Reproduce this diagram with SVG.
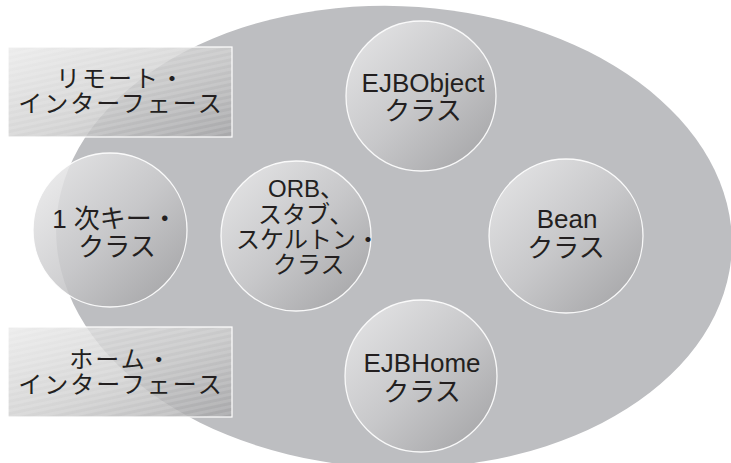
<svg xmlns="http://www.w3.org/2000/svg" width="731" height="463" viewBox="0 0 731 463">
  <defs>
    <linearGradient id="ballShade" x1="0.12" y1="0.1" x2="0.9" y2="0.92">
      <stop offset="0" stop-color="#e6e6e7"/>
      <stop offset="0.5" stop-color="#c9c9cb"/>
      <stop offset="1" stop-color="#a4a4a6"/>
    </linearGradient>
    <linearGradient id="panelShade" x1="0" y1="0" x2="1" y2="1">
      <stop offset="0" stop-color="#e8e8e8"/>
      <stop offset="0.55" stop-color="#cacaca"/>
      <stop offset="1" stop-color="#a2a2a4"/>
    </linearGradient>
    <pattern id="stripes" width="6" height="6" patternUnits="userSpaceOnUse" patternTransform="rotate(-12)">
      <rect width="6" height="3" fill="#ffffff" fill-opacity="0.12"/>
    </pattern>
  </defs>
  <style>
    .lbl { font-family: "Liberation Sans", "Noto Sans CJK JP", sans-serif; font-size: 26px; fill: #231f20; text-anchor: middle; }
    .pl { font-size: 24px; letter-spacing: 2px; }
    .sm { font-size: 24px; text-anchor: start; }
    .ball { fill: url(#ballShade); fill-opacity: 0.85; stroke: #ffffff; stroke-width: 1.3; stroke-opacity: 0.9; }
    .panel { fill: url(#panelShade); fill-opacity: 0.8; stroke: #ffffff; stroke-width: 1.2; }
    .panelTex { fill: url(#stripes); }
  </style>

  <rect width="731" height="463" fill="#ffffff"/>

  <!-- container: the bean environment -->
  <ellipse id="container" cx="394" cy="237" rx="338" ry="231" fill="#bdbec1" transform="rotate(2 394 237)"/>

  <g id="connectors"></g>

  <!-- interfaces -->
  <g id="remote-interface">
    <rect class="panel" x="8" y="47" width="224" height="90"/>
    <rect class="panelTex" x="8" y="47" width="224" height="90"/>
    <text class="lbl pl" x="121" y="87">リモート・</text>
    <text class="lbl pl" x="121" y="112">インターフェース</text>
  </g>

  <g id="home-interface">
    <rect class="panel" x="8" y="327" width="224" height="90"/>
    <rect class="panelTex" x="8" y="327" width="224" height="90"/>
    <text class="lbl pl" x="121" y="368">ホーム・</text>
    <text class="lbl pl" x="121" y="393">インターフェース</text>
  </g>

  <!-- classes -->
  <g id="ejbobject">
    <circle class="ball" cx="421" cy="96" r="75"/>
    <text class="lbl" x="423" y="92">EJBObject</text>
    <text class="lbl" x="423" y="120">クラス</text>
  </g>

  <g id="primary-key">
    <circle class="ball" cx="110" cy="230" r="77"/>
    <text class="lbl" x="115" y="228">1 次キー・</text>
    <text class="lbl" x="117" y="256">クラス</text>
  </g>

  <g id="orb-stub-skeleton">
    <circle class="ball" cx="296" cy="236" r="75"/>
    <text class="lbl sm" x="268" y="197">ORB、</text>
    <text class="lbl sm" x="258" y="223">スタブ、</text>
    <text class="lbl sm" x="236" y="248">スケルトン・</text>
    <text class="lbl sm" x="273" y="273">クラス</text>
  </g>

  <g id="bean">
    <circle class="ball" cx="566" cy="236" r="77"/>
    <text class="lbl" x="567" y="228">Bean</text>
    <text class="lbl" x="566" y="257">クラス</text>
  </g>

  <g id="ejbhome">
    <circle class="ball" cx="421" cy="376" r="76"/>
    <text class="lbl" x="422" y="372">EJBHome</text>
    <text class="lbl" x="422" y="401">クラス</text>
  </g>
</svg>
